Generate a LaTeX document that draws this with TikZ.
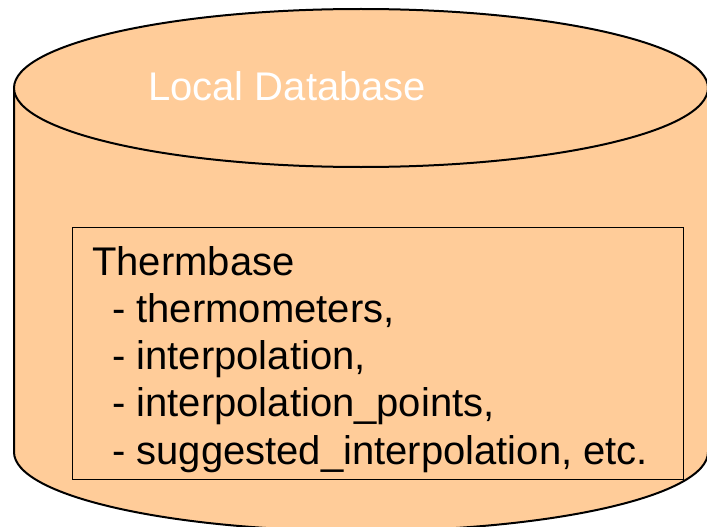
\documentclass[tikz,border=0pt]{standalone}
\usepackage{fontspec}
\setmainfont{Liberation Sans}
\definecolor{dbfill}{HTML}{FFCC99}
\begin{document}
\begin{tikzpicture}[x=1pt,y=-1pt,
  dbline/.style={draw=black,line width=2pt},
  boxline/.style={draw=black,line width=1pt},
  label/.style={inner sep=0pt,anchor=base west,font=\fontsize{40}{47}\selectfont},
  title/.style={label,text=white},
  entry/.style={label,text=black}]
\useasboundingbox (0,0) rectangle (707,527);
\clip (0,0) rectangle (707,527);
% cylinder geometry
\coordinate (tl) at (14,88);
\coordinate (tr) at (708,88);
\coordinate (bl) at (14,452);
\coordinate (br) at (708,452);
% body of the database cylinder
\path[fill=dbfill,dbline] (tl) -- (bl) arc[start angle=180,end angle=360,x radius=347,y radius=-79] -- (tr);
% top lid
\path[fill=dbfill,dbline] (361,88) ellipse[x radius=347,y radius=79];
\node[title] (db) at (148,100) {Local Database};
% table list box
\draw[boxline] (72,227) rectangle (683,479);
\node[entry] (t0) at (92,275) {Thermbase};
\node[entry] (t1) at (112,322.3) {- thermometers,};
\node[entry] (t2) at (112,369.6) {- interpolation,};
\node[entry] (t3) at (112,416.9) {- interpolation\_points,};
\node[entry] (t4) at (112,464.2) {- suggested\_interpolation, etc.};
\end{tikzpicture}
\end{document}
